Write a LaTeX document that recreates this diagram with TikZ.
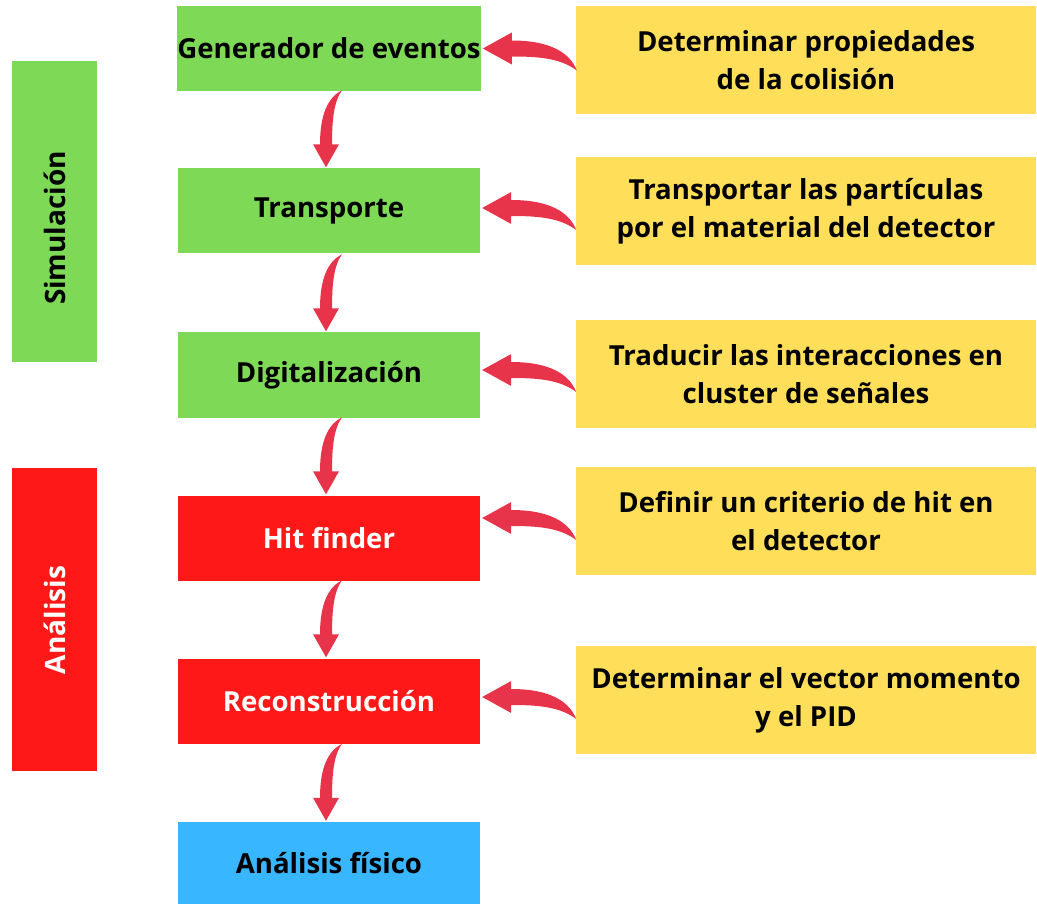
\documentclass[tikz,border=0pt]{standalone}
\usepackage{fontspec}
\setmainfont{Open Sans}
\usetikzlibrary{calc}
\definecolor{cgreen}{HTML}{7ED957}
\definecolor{cyellow}{HTML}{FFDE59}
\definecolor{cred}{HTML}{FF1818}
\definecolor{cblue}{HTML}{38B6FF}
\definecolor{carrow}{HTML}{E8344A}
\tikzset{
  box/.style={rectangle, inner sep=0pt, minimum width=302pt, minimum height=85pt, align=center, font=\fontsize{27.6}{37}\selectfont\bfseries},
  side/.style={rectangle, inner sep=0pt, minimum width=85pt},
  note/.style={rectangle, fill=cyellow, inner sep=0pt, minimum width=460pt, minimum height=108pt, align=center, font=\fontsize{27.6}{38}\selectfont\bfseries},
  arr/.style={fill=carrow},
  sidetext/.style={rotate=90, font=\fontsize{28}{32}\selectfont\bfseries}
}
\begin{document}
\begin{tikzpicture}[x=1pt,y=-1pt]
\useasboundingbox (0,0) rectangle (1037,904);
% sidebars
\node[side, fill=cgreen, minimum height=301pt] (sim) at (54.5,211.5) {};
\node[sidetext, text=black] (simt) at (54.5,228) {Simulación};
\node[side, fill=cred, minimum height=303pt] (ana) at (54.5,619.5) {};
\node[sidetext, text=white] (anat) at (54.5,620) {Análisis};
% center column
\node[box, fill=cgreen] (gen) at (329,48.5) {Generador de eventos};
\node[box, fill=cgreen] (tra) at (329,211) {Transporte};
\node[box, fill=cgreen] (dig) at (329,375) {Digitalización};
\node[box, fill=cred, text=white] (hit) at (329,538) {Hit finder};
\node[box, fill=cred, text=white] (rec) at (329,701) {Reconstrucción};
\node[box, fill=cblue, minimum height=82pt] (fis) at (329,863) {Análisis físico};
% notes
\node[note] (n1) at (806,60) {Determinar propiedades\\de la colisión};
\node[note] (n2) at (806,211) {Transportar las partículas\\por el material del detector};
\node[note] (n3) at (806,374) {Traducir las interacciones en\\cluster de señales};
\node[note] (n4) at (806,521) {Definir un criterio de hit en\\el detector};
\node[note] (n5) at (806,700) {Determinar el vector momento\\y el PID};
% side arrows (from note to step)
\foreach \s/\n/\dy in {gen/n1/0, tra/n2/-3, dig/n3/-5, hit/n4/-20, rec/n5/-4}{
  \coordinate (tip) at ($(\s.east)+(2,\dy)$);
  \fill[arr, shift={(tip)}] (0,0) -- (29,-16) -- (29,-8)
     .. controls (67,-8) and (87,4) .. (94,22)
     .. controls (78,10) and (57,8) .. (29,8) -- (29,16) -- cycle;
}
% down arrows
\foreach \a/\b in {gen/tra, tra/dig, dig/hit, hit/rec, rec/fis}{
  \coordinate (dtip) at ($(\b.north)+(-3,-1)$);
  \fill[arr, shift={(dtip)}] (0,0) -- (-13,-23) -- (-6,-23)
     .. controls (-6,-53) and (2,-70) .. (16,-77)
     .. controls (8,-66) and (6,-48) .. (6,-23) -- (13,-23) -- cycle;
}
\end{tikzpicture}
\end{document}
